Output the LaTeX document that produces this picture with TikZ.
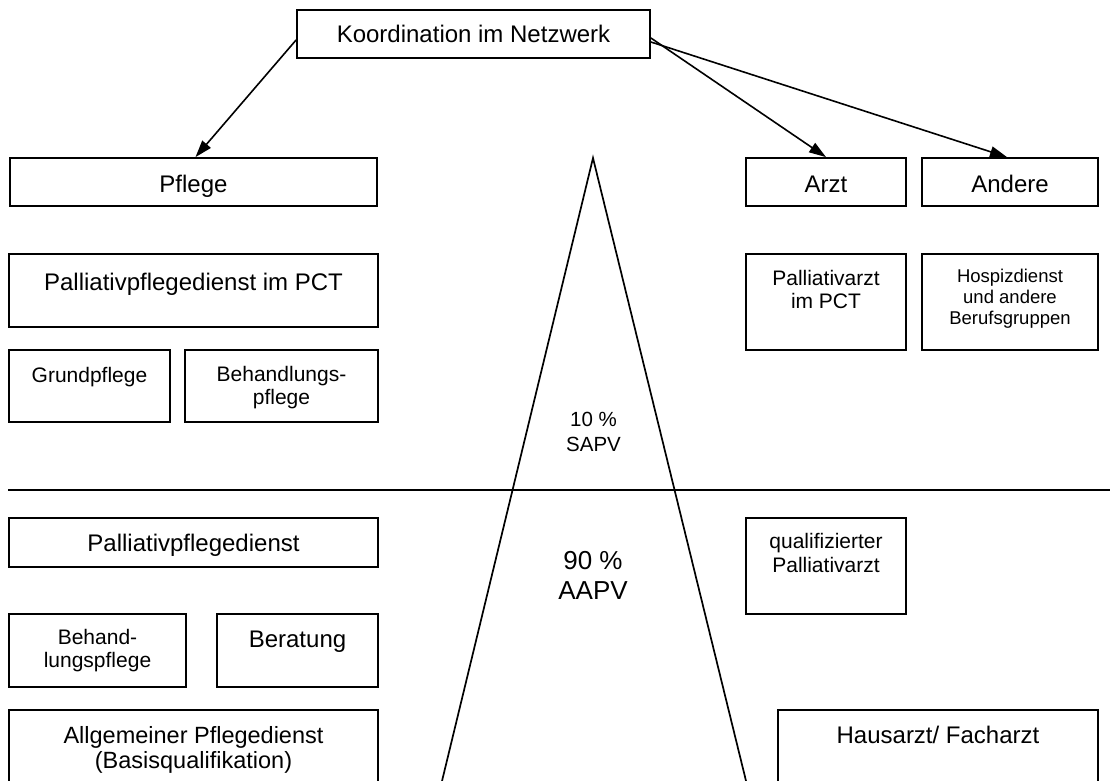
\documentclass[tikz,border=0pt]{standalone}
\usepackage{fontspec}
\setmainfont{Liberation Sans}
\usetikzlibrary{arrows.meta}
\tikzset{
  box/.style={draw, line width=1.8pt, inner sep=0pt},
  txt/.style={inner sep=0pt, anchor=base, align=center},
  fA/.style={font=\fontsize{24}{26}\selectfont},
  fB/.style={font=\fontsize{21}{22.5}\selectfont},
  fC/.style={font=\fontsize{18.5}{20.8}\selectfont},
  fP/.style={font=\fontsize{20.5}{24.6}\selectfont},
  fQ/.style={font=\fontsize{26}{30}\selectfont},
  conn/.style={line width=1.6pt, -{Triangle[length=17pt,width=11pt]}},
  thin/.style={line width=1.7pt},
}
\begin{document}
\begin{tikzpicture}[x=1pt,y=-1pt]
\useasboundingbox (0,0) rectangle (1110,781);
\clip (0,0) rectangle (1110,781);
% boxes
\node[box, minimum width=353, minimum height=48] (koord) at (473.5,34) {};
\node[box, minimum width=367, minimum height=48] (pflege) at (193.5,182) {};
\node[box, minimum width=160, minimum height=48] (arzt) at (826,182) {};
\node[box, minimum width=176, minimum height=48] (andere) at (1010,182) {};
\node[box, minimum width=369, minimum height=73] (ppct) at (193.5,290.5) {};
\node[box, minimum width=161, minimum height=72] (grund) at (89.5,386) {};
\node[box, minimum width=193, minimum height=72] (behpf) at (281.5,386) {};
\node[box, minimum width=160, minimum height=96] (parzt) at (826,302) {};
\node[box, minimum width=176, minimum height=96] (hospiz) at (1010,302) {};
\node[box, minimum width=369, minimum height=49] (ppd) at (193.5,542.5) {};
\node[box, minimum width=177, minimum height=73] (behand) at (97.5,650.5) {};
\node[box, minimum width=161, minimum height=73] (berat) at (297.5,650.5) {};
\node[box, minimum width=369, minimum height=120] (allg) at (193.5,770) {};
\node[box, minimum width=160, minimum height=96] (quali) at (826,566) {};
\node[box, minimum width=320, minimum height=120] (haus) at (938,770) {};
% texts (anchor base = baseline of last line)
\node[txt, fA] (tkoord) at (473.5,43) {Koordination im Netzwerk};
\node[txt, fA] (tpflege) at (193.5,192) {Pflege};
\node[txt, fA] (tarzt) at (826,192) {Arzt};
\node[txt, fA] (tandere) at (1010,192) {Andere};
\node[txt, fA] (tppct) at (193.5,290) {Palliativpflegedienst im PCT};
\node[txt, fB] (tgrund) at (89.5,382) {Grundpflege};
\node[txt, fB] (tbehpf) at (281.5,404) {Behandlungs-\\pflege};
\node[txt, font=\fontsize{21}{23}\selectfont] (tparzt) at (826,308) {Palliativarzt\\im PCT};
\node[txt, fC] (thospiz) at (1010,324) {Hospizdienst\\und andere\\Berufsgruppen};
\node[txt, fP] (tsapv) at (593.5,451.5) {10 \%\\SAPV};
\node[txt, fQ] (taapv) at (593,599) {90 \%\\AAPV};
\node[txt, fA] (tppd) at (193.5,551) {Palliativpflegedienst};
\node[txt, font=\fontsize{21}{22.7}\selectfont] (tbehand) at (97.5,667.5) {Behand-\\lungspflege};
\node[txt, fA] (tberat) at (297.5,647) {Beratung};
\node[txt, font=\fontsize{23.5}{25}\selectfont] (tallg) at (193.5,768) {Allgemeiner Pflegedienst\\(Basisqualifikation)};
\node[txt, font=\fontsize{21}{23.7}\selectfont] (tquali) at (826,572.5) {qualifizierter\\Palliativarzt};
\node[txt, fA] (thaus) at (938,743) {Hausarzt/ Facharzt};
% separator
\coordinate (hl) at (8,490);
\coordinate (hr) at (1112,490);
\draw[line width=1.9pt] (hl) -- (hr);
% pyramid
\coordinate (apex) at (593,158);
\coordinate (tl) at (437.4,800);
\coordinate (tr) at (750.7,800);
\draw[thin] (tl) -- (apex) -- (tr);
% arrows
\draw[conn] ([yshift=-6pt]koord.west) -- ([xshift=2pt]pflege.north);
\draw[conn] ([yshift=-4pt]koord.east) -- (arzt.north);
\draw[conn] ([yshift=-8pt]koord.east) -- ([xshift=-3pt]andere.north);
\end{tikzpicture}
\end{document}
